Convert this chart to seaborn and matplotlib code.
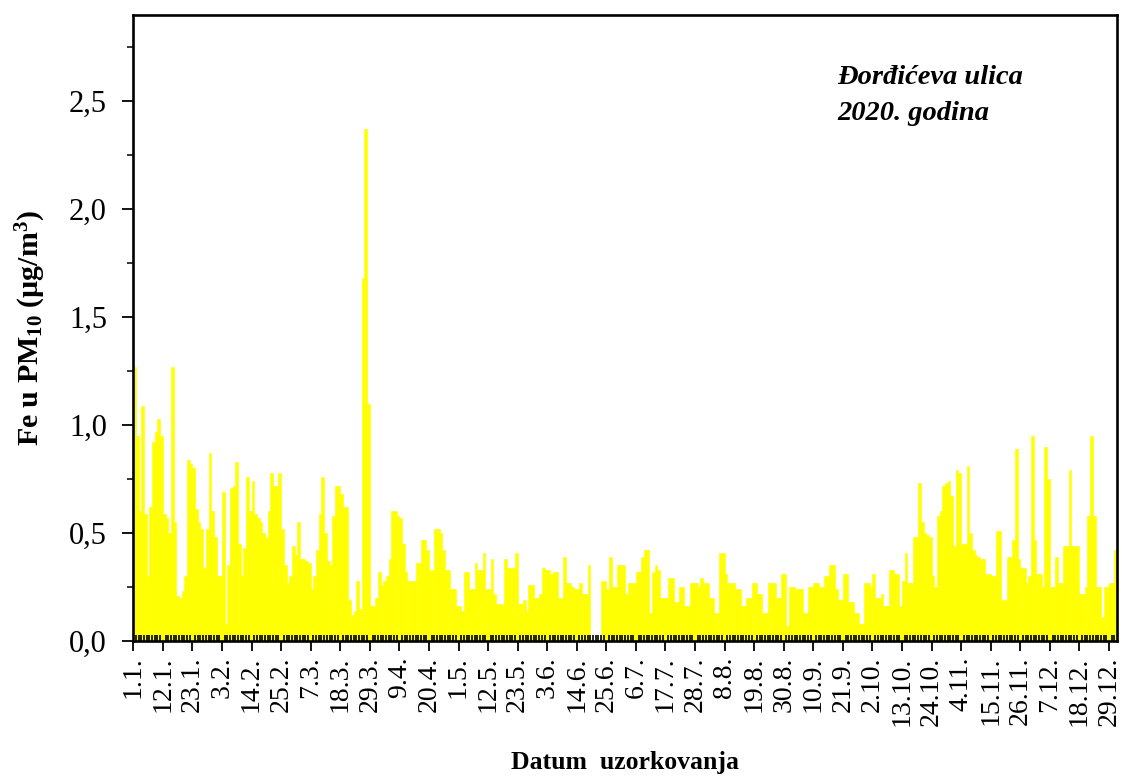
import numpy as np
import pandas as pd
import matplotlib
matplotlib.use("Agg")
import matplotlib.pyplot as plt
import seaborn as sns
from matplotlib.ticker import FuncFormatter, MultipleLocator, FixedLocator

# Daily Fe concentration in PM10 (µg/m3), Đorđićeva ulica, 2020 — one list per month
jan = [1.27, 0.95, 0.60, 1.09, 0.59, 0.30, 0.62, 0.92, 0.97, 1.03, 0.95, 0.59, 0.57, 0.50, 1.27, 0.55,
       0.21, 0.20, 0.23, 0.30, 0.84, 0.82, 0.80, 0.61, 0.55, 0.52, 0.34, 0.52, 0.87, 0.60, 0.48]
feb = [0.30, 0.30, 0.69, 0.08, 0.35, 0.71, 0.72, 0.83, 0.45, 0.30, 0.43, 0.76, 0.60, 0.74, 0.59, 0.57,
       0.55, 0.50, 0.48, 0.60, 0.78, 0.72, 0.72, 0.78, 0.52, 0.35, 0.27, 0.30, 0.44]
mar = [0.40, 0.55, 0.38, 0.38, 0.37, 0.36, 0.24, 0.30, 0.42, 0.59, 0.76, 0.50, 0.37, 0.35, 0.58, 0.72,
       0.72, 0.68, 0.62, 0.62, 0.19, 0.12, 0.14, 0.28, 0.15, 1.68, 2.37, 1.10, 0.16, 0.16, 0.20]
apr = [0.32, 0.26, 0.28, 0.30, 0.38, 0.60, 0.60, 0.58, 0.57, 0.45, 0.32, 0.28, 0.28, 0.28, 0.36, 0.36,
       0.47, 0.47, 0.42, 0.33, 0.33, 0.52, 0.52, 0.50, 0.42, 0.33, 0.33, 0.24, 0.24, 0.16]
may = [0.16, 0.14, 0.32, 0.32, 0.24, 0.24, 0.36, 0.33, 0.33, 0.41, 0.24, 0.24, 0.38, 0.22, 0.17, 0.17,
       0.17, 0.38, 0.34, 0.34, 0.34, 0.41, 0.17, 0.17, 0.19, 0.14, 0.26, 0.26, 0.20, 0.20, 0.22]
jun = [0.34, 0.33, 0.33, 0.31, 0.32, 0.32, 0.20, 0.20, 0.39, 0.27, 0.27, 0.25, 0.24, 0.24, 0.27, 0.22,
       0.22, 0.35, np.nan, np.nan, np.nan, np.nan, 0.28, 0.28, 0.24, 0.39, 0.25, 0.25, 0.35, 0.35]
jul = [0.35, 0.22, 0.27, 0.27, 0.27, 0.32, 0.32, 0.39, 0.42, 0.42, 0.13, 0.32, 0.35, 0.33, 0.20, 0.20,
       0.20, 0.29, 0.29, 0.18, 0.18, 0.25, 0.25, 0.16, 0.16, 0.27, 0.27, 0.27, 0.25, 0.29, 0.27]
aug = [0.27, 0.20, 0.20, 0.13, 0.13, 0.41, 0.41, 0.31, 0.27, 0.27, 0.27, 0.24, 0.24, 0.16, 0.16, 0.20,
       0.20, 0.27, 0.27, 0.22, 0.22, 0.13, 0.13, 0.27, 0.27, 0.27, 0.20, 0.20, 0.31, 0.31, 0.07]
sep = [0.25, 0.25, 0.24, 0.24, 0.24, 0.13, 0.13, 0.25, 0.25, 0.27, 0.27, 0.25, 0.25, 0.30, 0.30, 0.35,
       0.35, 0.24, 0.19, 0.19, 0.31, 0.31, 0.18, 0.18, 0.13, 0.13, 0.08, 0.08, 0.27, 0.27]
oct_ = [0.25, 0.31, 0.20, 0.20, 0.22, 0.16, 0.16, 0.33, 0.33, 0.31, 0.31, 0.16, 0.28, 0.41, 0.27, 0.27,
        0.48, 0.48, 0.73, 0.55, 0.50, 0.49, 0.48, 0.30, 0.25, 0.58, 0.60, 0.72, 0.73, 0.74, 0.67]
nov = [0.44, 0.79, 0.78, 0.45, 0.45, 0.81, 0.50, 0.42, 0.40, 0.39, 0.38, 0.38, 0.31, 0.31, 0.30, 0.30,
       0.51, 0.51, 0.19, 0.19, 0.39, 0.39, 0.47, 0.89, 0.38, 0.34, 0.34, 0.27, 0.30, 0.95]
dec = [0.47, 0.31, 0.31, 0.25, 0.90, 0.75, 0.25, 0.25, 0.39, 0.27, 0.27, 0.44, 0.44, 0.79, 0.44, 0.44,
       0.44, 0.22, 0.22, 0.25, 0.58, 0.95, 0.58, 0.25, 0.25, 0.11, 0.25, 0.25, 0.27, 0.27, 0.42]

y_ticks = [0.0, 0.5, 1.0, 1.5, 2.0, 2.5]
label_step = 11  # one date label every 11 days

dates = pd.date_range("2020-01-01", "2020-12-31", freq="D")
fe = jan + feb + mar + apr + may + jun + jul + aug + sep + oct_ + nov + dec
day_names = [f"{d.day}.{d.month}." for d in dates]
df = pd.DataFrame({"dan": day_names, "fe": fe})

sns.set_style("ticks")
plt.rcParams["font.family"] = ["Liberation Serif", "DejaVu Serif"]
plt.rcParams["mathtext.fontset"] = "custom"
plt.rcParams["mathtext.rm"] = "Liberation Serif:bold"
plt.rcParams["mathtext.bf"] = "Liberation Serif:bold"
plt.rcParams["mathtext.default"] = "bf"
for key in ["text.color", "axes.labelcolor", "xtick.color", "ytick.color",
            "xtick.labelcolor", "ytick.labelcolor"]:
    plt.rcParams[key] = "black"

fig = plt.figure(figsize=(11.22, 7.77), dpi=100)
ax = fig.add_axes([0.1188, 0.175, 0.8768, 0.8058])

sns.barplot(data=df, x="dan", y="fe", order=day_names, color="#FFFF00", saturation=1,
            width=1.0, errorbar=None, linewidth=0.4, edgecolor="#FFFF00", ax=ax)
ax.set_axisbelow(False)

n = len(day_names)
ax.set_xlim(-0.5, n - 0.5)
ax.set_ylim(0, 2.9)

# date labels on the left edge of each labelled day's bar
major_idx = list(range(0, n, label_step))
ax.xaxis.set_major_locator(FixedLocator([i - 0.5 for i in major_idx]))
ax.set_xticklabels([day_names[i] for i in major_idx], rotation=90, fontsize=20)
ax.xaxis.set_minor_locator(FixedLocator([i - 0.5 for i in range(n)]))

ax.yaxis.set_major_locator(FixedLocator(y_ticks))
ax.yaxis.set_minor_locator(MultipleLocator(0.25))
ax.yaxis.set_major_formatter(FuncFormatter(lambda v, p: f"{v:.1f}".replace(".", ",")))
ax.tick_params(axis="y", which="major", direction="out", length=8, width=1.3, labelsize=22, pad=11)
ax.tick_params(axis="y", which="minor", direction="out", length=4.5, width=1.1)
ax.tick_params(axis="x", which="major", direction="out", length=7, width=1.3, pad=4)
ax.tick_params(axis="x", which="minor", direction="in", length=4.5, width=1.2, color="black")

for s in ax.spines.values():
    s.set_visible(True)
    s.set_linewidth(1.9)
    s.set_color("black")

ax.set_xlabel("Datum  uzorkovanja", fontsize=18.5, fontweight="bold", labelpad=18)
ax.set_ylabel(r"Fe u PM$_{10}$ (µg/m$^{3}$)", fontsize=21.5, fontweight="bold", labelpad=15)

ax.text(0.716, 0.890, "Đorđićeva ulica", transform=ax.transAxes, fontsize=20.5,
        fontweight="bold", fontstyle="italic", va="baseline", ha="left")
ax.text(0.716, 0.832, "2020. godina", transform=ax.transAxes, fontsize=20.5,
        fontweight="bold", fontstyle="italic", va="baseline", ha="left")

fig.savefig("out.png", dpi=100, facecolor="white")
